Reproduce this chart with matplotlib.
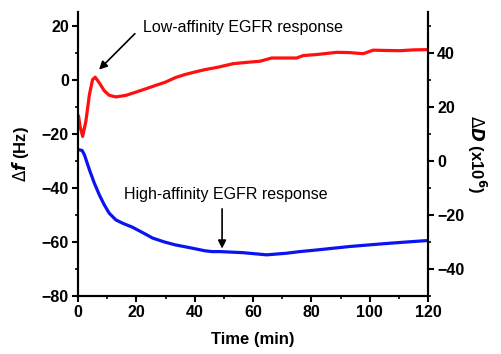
import numpy as np
import matplotlib.pyplot as plt
from matplotlib.ticker import MultipleLocator

plt.rcParams['font.family'] = ['Liberation Sans', 'DejaVu Sans']

# low-affinity response, dissipation (right axis)
t_red = [0.2, 0.7, 1.6, 2.7, 3.9, 5.0, 5.9, 7.3, 9.0, 10.7, 13.0, 16.5, 19.9, 23.5,
         27, 29.8, 33.5, 36.7, 40, 43.5, 48, 53.2, 58, 62.4, 66.4, 70, 75, 77.2,
         82, 88.7, 93, 97.8, 101.2, 105, 110.4, 115, 120]
d_red = [16.4, 12.7, 9.0, 14.6, 24.4, 30.0, 30.9, 28.8, 25.9, 24.2, 23.6, 24.2, 25.4, 26.7,
         28.0, 29.0, 30.8, 31.9, 32.8, 33.7, 34.6, 35.9, 36.4, 36.8, 38.0, 38.0, 38.0, 38.9,
         39.3, 40.1, 40.0, 39.6, 40.9, 40.8, 40.7, 41.0, 41.1]

# high-affinity response, frequency (left axis)
t_blue = [0.2, 1.4, 2.2, 3.9, 5.6, 7.3, 9.0, 10.7, 13.0, 15.3, 18.7, 22.2, 25.6, 29.5,
          33.3, 39, 43.5, 46, 48.7, 56.6, 64.7, 71.5, 76, 81.8, 93.3, 104.6, 112, 120]
f_blue = [-25.9, -26.2, -27.8, -33.3, -38.3, -42.6, -46.3, -49.4, -51.9, -53.1, -54.6, -56.6, -58.6, -60.0,
          -61.1, -62.3, -63.3, -63.6, -63.6, -64.0, -64.8, -64.2, -63.6, -63.0, -61.7, -60.7, -60.1, -59.5]

fig = plt.figure(figsize=(5.01, 3.54), dpi=100)
ax = fig.add_axes([0.1557, 0.164, 0.6986, 0.802])
ax2 = ax.twinx()

ax.plot(t_blue, f_blue, color='#0a14f0', lw=2.3, solid_joinstyle='round')
ax2.plot(t_red, d_red, color='#ff1010', lw=2.3, solid_joinstyle='round')

ax.set_xlim(0, 120)
ax.set_ylim(-80, 25)
ax2.set_ylim(-50, 55)
ax.xaxis.set_major_locator(MultipleLocator(20))
ax.xaxis.set_minor_locator(MultipleLocator(10))
ax.yaxis.set_major_locator(MultipleLocator(20))
ax.yaxis.set_minor_locator(MultipleLocator(10))
ax2.yaxis.set_major_locator(MultipleLocator(20))
ax2.yaxis.set_minor_locator(MultipleLocator(10))

for a in (ax, ax2):
    a.spines['top'].set_visible(False)
    for s in a.spines.values():
        s.set_linewidth(1.5)
    a.tick_params(which='major', length=4.5, width=1.5, labelsize=11.5, pad=2)
    a.tick_params(which='minor', length=2.5, width=1.2)
    for lab in a.get_xticklabels() + a.get_yticklabels():
        lab.set_fontweight('bold')

ax.set_xlabel('Time (min)', fontsize=12, fontweight='bold', labelpad=9)
ax.set_ylabel(r'$\Delta\mathbfit{f}$ (Hz)', fontsize=12, fontweight='bold', labelpad=8)
ax2.set_ylabel(r'$\Delta\mathbfit{D}$ (x10$^{\mathbf{6}}$)', fontsize=12, fontweight='bold',
               rotation=270, labelpad=17)

ax.annotate('', xy=(7.2, 3.7), xytext=(19.5, 17.0),
            arrowprops=dict(arrowstyle='-|>', color='black', lw=1.2,
                            shrinkA=0, shrinkB=0, mutation_scale=12))
ax.text(22.3, 19.3, 'Low-affinity EGFR response', fontsize=11.5, va='center', ha='left')
ax.annotate('', xy=(49.4, -62.5), xytext=(49.4, -47.8),
            arrowprops=dict(arrowstyle='-|>', color='black', lw=1.2,
                            shrinkA=0, shrinkB=0, mutation_scale=12))
ax.text(15.7, -42.6, 'High-affinity EGFR response', fontsize=11.5, va='center', ha='left')

fig.savefig('out.png', dpi=100)
